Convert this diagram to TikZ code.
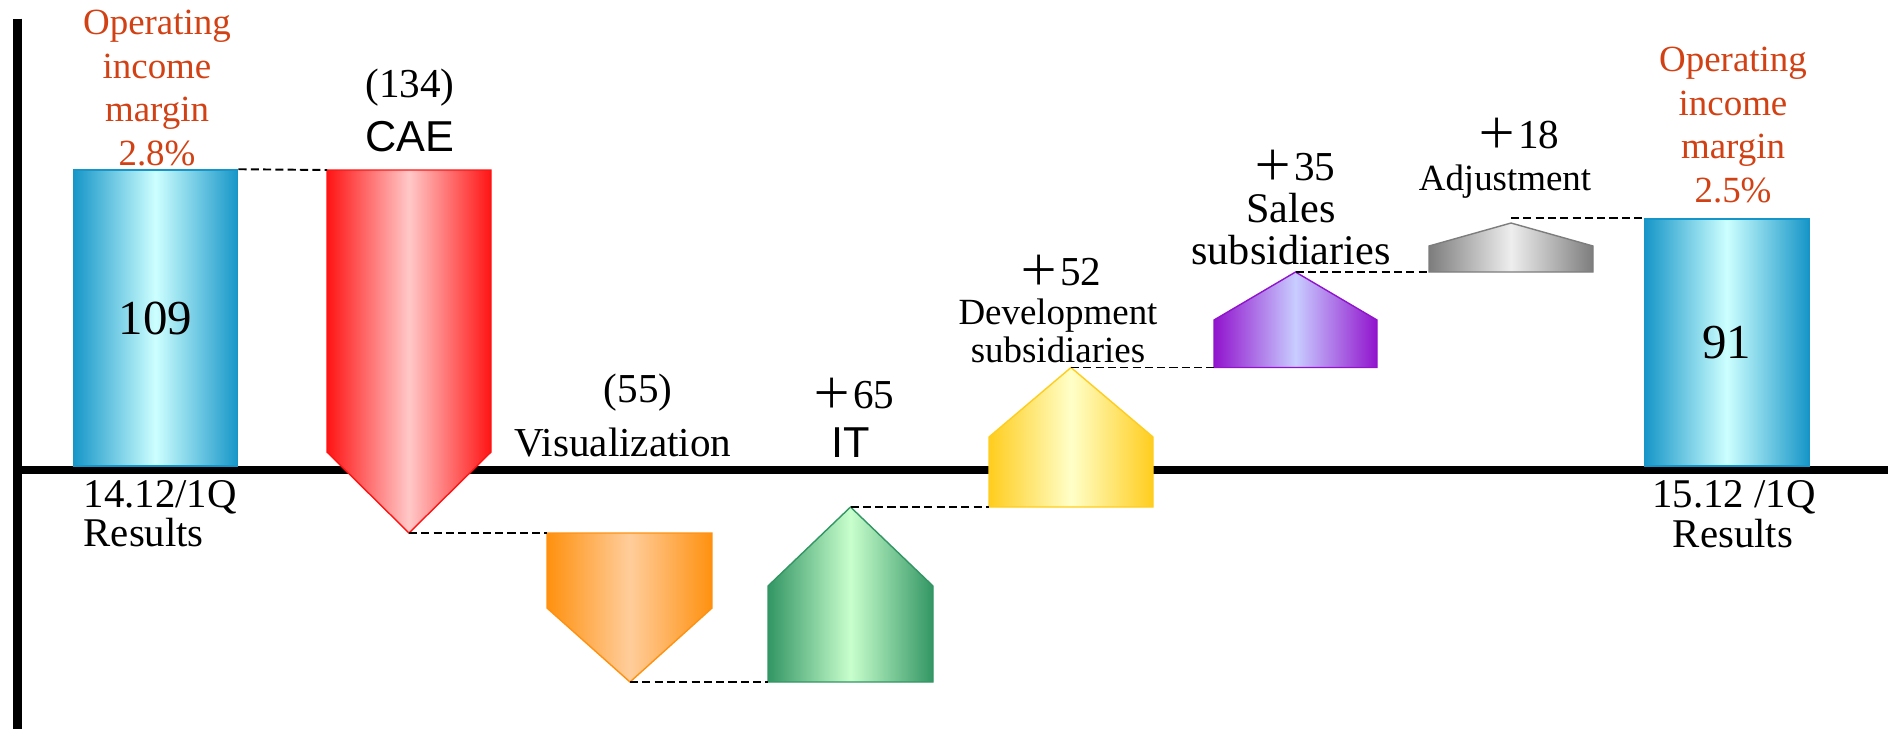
\documentclass[tikz,border=0pt]{standalone}
\usepackage{fontspec}
\setmainfont{Liberation Serif}
\setsansfont{Liberation Sans}
\newfontfamily\cjk{Noto Sans CJK JP}
\usetikzlibrary{positioning}

\definecolor{blueE}{RGB}{22,150,200}
\definecolor{blueM}{RGB}{205,255,255}
\definecolor{redE}{RGB}{255,20,20}
\definecolor{redM}{RGB}{255,200,200}
\definecolor{orangeE}{RGB}{255,145,15}
\definecolor{orangeM}{RGB}{255,205,155}
\definecolor{greenE}{RGB}{50,150,100}
\definecolor{greenM}{RGB}{200,255,205}
\definecolor{yellowE}{RGB}{255,205,30}
\definecolor{yellowM}{RGB}{255,255,200}
\definecolor{purpleE}{RGB}{145,20,205}
\definecolor{purpleM}{RGB}{200,205,255}
\definecolor{grayE}{RGB}{125,125,125}
\definecolor{grayM}{RGB}{238,238,238}
\definecolor{marginred}{RGB}{210,65,20}

\newcommand{\plus}{{\cjk ＋}}

\begin{document}
\begin{tikzpicture}[
  x=0.01cm,y=-0.01cm,
  bar/.style={draw=#1E,line width=0.4pt,left color=#1E,right color=#1E,
    middle color=#1M},
  total/.style={bar=blue,minimum width=1.644cm,inner sep=0pt,
    font=\fontsize{13.9}{16}\selectfont},
  val/.style={inner sep=0pt,font=\fontsize{11.7}{14}\selectfont},
  lbl/.style={inner sep=0pt,align=center,font=\fontsize{11.7}{12}\selectfont},
  small/.style={inner sep=0pt,align=center,font=\fontsize{10.5}{11}\selectfont},
  sanslbl/.style={inner sep=0pt,font=\sffamily\fontsize{12.3}{14}\selectfont},
  marginlbl/.style={inner sep=0pt,align=center,text=marginred,
    font=\fontsize{10.5}{12.4}\selectfont},
  period/.style={inner sep=0pt,font=\fontsize{11.6}{12}\selectfont},
  link/.style={line width=0.55pt,dash pattern=on 2.3pt off 1.2pt}
]
\useasboundingbox (0,0) rectangle (1888,729);

% axes
\draw[line width=2.6pt] (17.5,18.6) -- (17.5,729);
\draw[line width=2.3pt] (17.5,470) -- (1888,470);

% start and end totals
\node[total,minimum height=2.96cm] (res14) at (155.5,318) {109};
\node[total,minimum height=2.47cm] (res15) at (1726.7,342.5) {91};

% changes
\path[bar=red] (327,170) coordinate (caeTop) -- (491,170) -- (491,452)
  -- (409,533) coordinate (caeTip) -- (327,452) -- cycle;
\path[bar=orange] (547,533) coordinate (visTop) -- (712,533) -- (712,608)
  -- (630,682) coordinate (visTip) -- (547,608) -- cycle;
\path[bar=green] (768,682) coordinate (itBot) -- (933,682) -- (933,586)
  -- (850.5,507) coordinate (itTip) -- (768,586) -- cycle;
\path[bar=yellow] (989,507) coordinate (devBot) -- (1153,507) -- (1153,437)
  -- (1071,367.5) coordinate (devTip) -- (989,437) -- cycle;
\path[bar=purple] (1214,367.5) coordinate (salesBot) -- (1377,367.5)
  -- (1377,320) -- (1295.5,272) coordinate (salesTip) -- (1214,320) -- cycle;
\path[bar=gray] (1429,272) coordinate (adjBot) -- (1593,272) -- (1593,246)
  -- (1511,223) coordinate (adjTip) -- (1429,246) -- cycle;

\draw[link] (res14.north east) -- (caeTop);
\draw[link] (caeTip) -- (visTop);
\draw[link] (visTip) -- (itBot);
\draw[link] (itTip) -- (devBot);
\draw[link] (devTip) -- (salesBot);
\draw[link] (salesTip) -- (adjBot);
\draw[link] (adjTip |- res15.north west) -- (res15.north west);

% labels
\node[marginlbl] (mar14) at (157,88) {Operating\\income\\margin\\2.8\%};
\node[marginlbl] (mar15) at (1733,125) {Operating\\income\\margin\\2.5\%};
\node[val] (v134) at (410,88) {(134)};
\node[sanslbl] (nCAE) at (410,137) {CAE};
\node[val] (v55) at (638,393) {(55)};
\node[lbl] (nVis) at (623,443) {Visualization};
\node[val] (v65) at (853,393) {\plus65};
\node[sanslbl] (nIT) at (851,443) {IT};
\node[val] (v52) at (1060,270) {\plus52};
\node[small] (nDev) at (1058,331) {Development\\subsidiaries};
\node[val] (v35) at (1294,165) {\plus35};
\node[lbl,font=\fontsize{12}{12}\selectfont] (nSales) at (1291,229)
  {Sales\\subsidiaries};
\node[val] (v18) at (1518,133) {\plus18};
\node[small] (nAdj) at (1505,182) {Adjustment};
\node[period,anchor=west] (p14) at (83,497) {14.12/1Q};
\node[period,anchor=west] (r14) at (83,533) {Results};
\node[period] (p15) at (1734,497) {15.12 /1Q};
\node[period] (r15) at (1733,534) {Results};
\end{tikzpicture}
\end{document}
